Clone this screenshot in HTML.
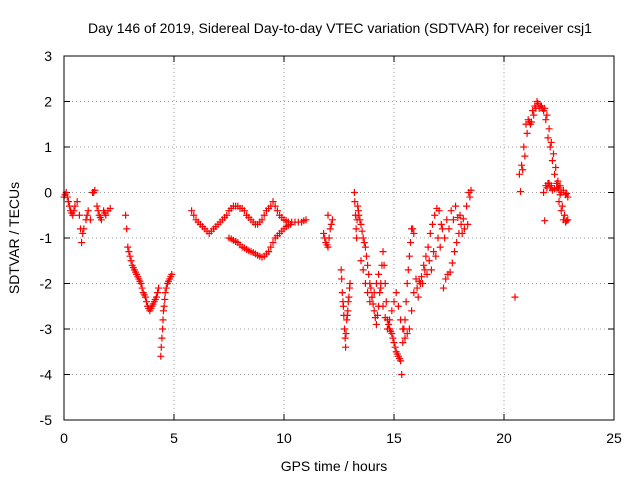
<!DOCTYPE html>
<html><head><meta charset="utf-8"><style>
html,body{margin:0;padding:0;background:#fff;}
svg{display:block;font-family:"Liberation Sans",sans-serif;}
</style></head><body>
<svg id="chart" width="640" height="480" xmlns="http://www.w3.org/2000/svg">
<text x="340" y="33" font-size="14" text-anchor="middle">Day 146 of 2019, Sidereal Day-to-day VTEC variation (SDTVAR) for receiver csj1</text>
<text x="334" y="471" font-size="14" text-anchor="middle">GPS time / hours</text>
<text x="19" y="238" font-size="14" text-anchor="middle" transform="rotate(-90 19 238)">SDTVAR / TECUs</text>
<g id="grid"></g>
<g id="ticks"></g>
<g id="points"></g>
<rect x="64" y="56" width="550" height="364" fill="none" stroke="#000" stroke-width="1"/>
</svg>
<script>
const xTicks=[0,5,10,15,20,25];
const yTicks=[3,2,1,0,-1,-2,-3,-4,-5];
const hours=[0,0.1,0.2,0.3,0.4,0.5,0.6,0.7,0.8,0.9,1.0,1.1,1.2,1.3,1.4,1.5,1.6,1.7,1.8,1.9,2.0,2.1,
2.8,2.85,2.9,3.0,3.1,3.2,3.3,3.4,3.5,3.6,3.7,3.8,3.9,4.0,4.1,4.2,4.3,4.4,4.45,4.5,4.55,4.6,4.7,4.8,4.9,
5.8,6.0,6.2,6.4,6.6,6.8,7.0,7.2,7.4,7.6,7.8,8.0,8.2,8.4,8.6,8.8,9.0,9.2,9.4,9.5,9.6,9.8,10.0,10.2,10.5,10.8,11.0,
7.5,7.7,7.9,8.1,8.3,8.5,8.7,8.9,9.1,9.3,9.5,9.7,9.9,10.1,10.3,
11.8,11.9,12.0,12.1,12.2,12.0,
12.6,12.65,12.7,12.75,12.8,12.85,12.9,12.95,13.0,
13.2,13.25,13.3,13.35,13.4,13.5,13.6,13.7,13.8,13.9,14.0,14.1,14.2,14.3,14.4,14.5,14.6,14.7,14.8,14.9,15.0,15.1,15.2,15.3,15.35,15.4,15.5,15.6,15.7,15.8,15.9,
13.5,13.7,13.9,14.1,14.3,14.5,14.7,14.9,15.1,15.3,15.5,15.7,15.9,16.0,16.2,16.4,16.6,16.8,17.0,17.2,17.4,17.6,17.8,18.0,18.2,18.3,18.4,18.5,
16.1,16.3,16.5,16.7,16.9,17.1,17.3,17.5,17.7,17.9,18.1,
20.5,
20.7,20.8,20.9,21.0,21.1,21.2,21.3,21.4,21.5,21.6,21.7,21.8,21.9,22.0,22.1,22.2,22.3,22.4,22.5,22.6,22.7,22.8,22.9,
21.8,21.9,22.0,22.1,22.2,22.4,22.5,22.6,22.8,22.9,
0.05,0.15,0.25,0.35,0.45,0.75,0.85,1.05,1.35,1.55,1.65,1.85,
2.95,3.05,3.15,3.25,3.35,3.45,3.55,3.65,3.75,3.85,3.95,4.05,4.15,4.25,4.42,4.48,4.52,4.58,4.65,4.75,4.85,
5.9,6.1,6.3,6.5,6.7,6.9,7.1,7.3,7.5,7.7,7.9,8.1,8.3,8.5,8.7,8.9,9.1,9.3,9.7,9.9,10.1,10.35,10.65,10.9,
7.6,7.8,8.0,8.2,8.4,8.6,8.8,9.0,9.2,9.4,9.6,9.8,10.0,10.2,
11.85,11.95,12.05,12.15,12.62,12.68,12.72,12.78,12.82,12.88,12.92,12.98,
13.22,13.28,13.32,13.38,13.45,13.55,13.65,13.75,13.85,13.95,14.05,14.15,14.25,14.35,14.45,14.55,14.65,14.75,14.85,14.95,15.05,15.15,15.25,15.45,15.55,15.65,15.75,15.85,
13.6,13.8,14.0,14.2,14.4,14.6,14.8,15.0,15.2,15.4,15.6,15.8,16.05,16.15,16.25,16.35,16.45,16.55,16.65,16.75,16.85,16.95,17.05,17.15,17.25,17.35,17.45,17.55,17.65,17.75,17.85,17.95,18.05,18.15,18.35,18.45,
20.75,20.85,20.95,21.05,21.15,21.25,21.35,21.45,21.55,21.65,21.75,21.85,21.95,22.05,22.15,22.25,22.35,22.45,22.55,22.65,22.75,22.85,
21.85,21.95,22.05,22.15,22.3,22.45,22.55,22.7,22.85];
const sdtvar=[-0.1,0,-0.2,-0.4,-0.5,-0.3,-0.2,-0.5,-1.1,-0.8,-0.6,-0.4,-0.6,0,0.05,-0.3,-0.5,-0.6,-0.4,-0.5,-0.4,-0.35,
-0.5,-0.8,-1.2,-1.4,-1.6,-1.7,-1.8,-1.9,-2.0,-2.2,-2.3,-2.5,-2.6,-2.5,-2.4,-2.3,-2.1,-3.6,-3.2,-2.8,-2.5,-2.2,-2.0,-1.9,-1.8,
-0.4,-0.6,-0.7,-0.8,-0.9,-0.8,-0.7,-0.6,-0.5,-0.35,-0.3,-0.35,-0.4,-0.55,-0.65,-0.7,-0.6,-0.4,-0.3,-0.2,-0.3,-0.5,-0.6,-0.65,-0.65,-0.65,-0.6,
-1.0,-1.05,-1.1,-1.2,-1.25,-1.3,-1.35,-1.4,-1.4,-1.3,-1.1,-0.95,-0.85,-0.75,-0.7,
-0.9,-1.1,-1.2,-0.8,-0.6,-0.5,
-1.7,-2.2,-2.5,-3.0,-3.4,-2.8,-2.6,-2.3,-2.0,
0,-0.5,-1.0,-0.3,-0.5,-0.7,-1.0,-1.2,-1.6,-2.0,-2.3,-2.6,-2.9,-2.5,-2.0,-1.3,-2.0,-2.8,-3.0,-3.1,-3.3,-3.5,-3.6,-3.7,-4.0,-3.3,-2.8,-2.0,-1.4,-0.8,-0.9,
-1.5,-2.0,-2.4,-2.2,-1.8,-2.5,-3.0,-2.6,-2.2,-2.8,-3.2,-3.0,-2.2,-1.9,-2.0,-1.7,-1.5,-1.3,-1.0,-0.8,-0.6,-0.4,-0.3,-0.5,-0.8,-0.3,0,0.05,
-2.3,-2.0,-1.8,-1.7,-1.4,-1.2,-1.0,-0.8,-0.6,-0.55,-0.9,
-2.3,
0.4,0.6,1.0,1.5,1.6,1.5,1.8,1.9,2.0,1.85,1.9,1.8,1.6,1.2,1.0,0.7,0.4,0.1,-0.2,-0.4,-0.6,-0.65,-0.6,
0.0,0.15,0.2,0.1,0.05,0.2,0.1,0.0,-0.05,-0.1,
-0.05,-0.1,-0.3,-0.45,-0.4,-0.8,-0.9,-0.5,0,-0.4,-0.55,-0.45,
-1.3,-1.5,-1.65,-1.75,-1.85,-1.95,-2.1,-2.25,-2.4,-2.55,-2.55,-2.45,-2.35,-2.2,-3.4,-3.0,-2.6,-2.35,-2.1,-1.95,-1.85,
-0.5,-0.65,-0.75,-0.85,-0.85,-0.75,-0.65,-0.55,-0.4,-0.3,-0.3,-0.35,-0.5,-0.6,-0.7,-0.65,-0.5,-0.35,-0.4,-0.55,-0.62,-0.65,-0.65,-0.62,
-1.02,-1.08,-1.15,-1.22,-1.28,-1.32,-1.38,-1.42,-1.35,-1.2,-1.0,-0.9,-0.8,-0.72,
-1.0,-1.15,-1.0,-0.7,-1.9,-2.4,-2.7,-3.2,-3.1,-2.7,-2.4,-2.1,
-0.2,-0.8,-0.6,-0.4,-0.6,-0.85,-1.1,-1.4,-1.8,-2.1,-2.45,-2.75,-2.7,-2.2,-1.6,-1.6,-2.4,-2.9,-3.05,-3.2,-3.4,-3.55,-3.65,-3.0,-2.4,-1.7,-1.1,-0.8,
-1.7,-2.2,-2.3,-2.0,-2.1,-2.75,-2.8,-2.4,-2.5,-3.0,-3.1,-2.6,-2.1,-1.95,-1.85,-1.6,-1.4,-1.2,-0.9,-0.7,-0.5,-0.35,-0.4,-0.7,
-2.1,-1.9,-1.8,-1.75,-1.55,-1.3,-1.1,-0.9,-0.7,-0.58,-0.7,-0.1,0.02,
0.5,0.8,1.3,1.55,1.55,1.7,1.85,1.95,1.9,1.85,1.85,1.7,1.4,1.1,0.85,0.55,0.25,-0.05,-0.3,-0.5,-0.62,-0.62,
0.1,0.2,0.15,0.08,0.1,0.15,0.05,-0.02,-0.08];
const NS="http://www.w3.org/2000/svg";
function xs(v){return 64+(v-0)/25*550;}
function ys(v){return 56+(3-v)/8*364;}
function mk(tag,attrs,parent){const e=document.createElementNS(NS,tag);for(const k in attrs)e.setAttribute(k,attrs[k]);parent.appendChild(e);return e;}
const grid=document.getElementById('grid'),ticks=document.getElementById('ticks'),pts=document.getElementById('points');
xTicks.forEach(t=>{const x=xs(t);
  if(t>0&&t<25){const g=mk('line',{x1:x,y1:56,x2:x,y2:420,stroke:'#a0a0a0','stroke-dasharray':'1,3','stroke-width':1},grid);
  
  }
  const a=mk('line',{x1:x,y1:420,x2:x,y2:414,stroke:'#000'},ticks);
  const b=mk('line',{x1:x,y1:56,x2:x,y2:62,stroke:'#000'},ticks);
  const l=mk('text',{x:x,y:443,'font-size':14,'text-anchor':'middle'},ticks);l.textContent=t;
  
  
});
yTicks.forEach(t=>{const y=ys(t);
  if(t<3&&t>-5){const g=mk('line',{x1:64,y1:y,x2:614,y2:y,stroke:'#a0a0a0','stroke-dasharray':'1,3','stroke-width':1},grid);
  
  }
  const a=mk('line',{x1:64,y1:y,x2:70,y2:y,stroke:'#000'},ticks);
  const b=mk('line',{x1:608,y1:y,x2:614,y2:y,stroke:'#000'},ticks);
  const l=mk('text',{x:52,y:y+5,'font-size':14,'text-anchor':'end'},ticks);l.textContent=t;
  
  
});
for(let i=0;i<hours.length;i++){const x=xs(hours[i]),y=ys(sdtvar[i]);
  const p=mk('path',{d:`M${x-3.5},${y}H${x+3.5}M${x},${y-3.5}V${y+3.5}`,stroke:'#ff0000','stroke-width':1.2,fill:'none'},pts);
  
  
}
</script>
</body></html>
